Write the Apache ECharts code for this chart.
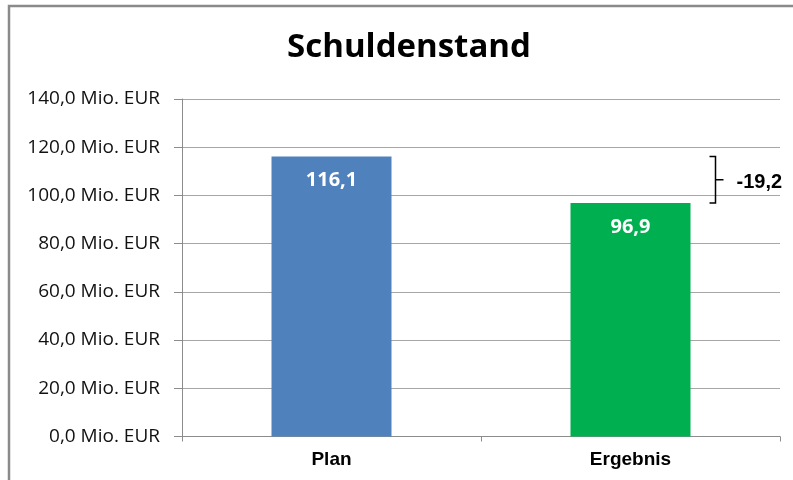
<!DOCTYPE html>
<html><head><meta charset="utf-8">
<script src="https://cdn.jsdelivr.net/npm/echarts@6/dist/echarts.min.js"></script>
<style>html,body{margin:0;padding:0;background:#fff}#c{width:793px;height:480px}</style>
</head><body><div id="c"></div>
<script>
var categories = ['Plan', 'Ergebnis'];
var values = [116.1, 96.9];
var barColors = ['#4F81BD', '#00B050'];
var yTicks = [0, 20, 40, 60, 80, 100, 120, 140];
var diffLabel = '-19,2';

function fmt(v){ return v.toFixed(1).replace('.', ',') + ' Mio. EUR'; }

var chart = echarts.init(document.getElementById('c'), null, {renderer:'canvas'});
chart.setOption({
  animation: false,
  backgroundColor: '#fff',
  title: {
    text: 'Schuldenstand', left: 404, top: 26, textAlign: 'center',
    textStyle: {fontFamily: 'Open Sans', fontWeight: 'bold', fontSize: 33, color: '#000'}
  },
  graphic: [{
    type: 'polyline', silent: true,
    shape: {points: [[9, 485], [9, 6], [800, 6]]},
    style: {stroke: '#8a8a8a', lineWidth: 2.5, fill: null}
  }],
  grid: {left: 182, right: 13, top: 99, bottom: 43.5, containLabel: false},
  xAxis: {
    type: 'category', data: categories,
    axisLine: {lineStyle: {color: '#8c8c8c', width: 1}},
    axisTick: {show: true, length: 5, lineStyle: {color: '#8c8c8c'}},
    axisLabel: {fontFamily: 'Liberation Sans', fontWeight: 'bold', fontSize: 19, color: '#000', margin: 14}
  },
  yAxis: {
    type: 'value', min: 0, max: 140, interval: 20,
    axisLine: {show: true, lineStyle: {color: '#8c8c8c', width: 1}},
    axisTick: {show: true, length: 8, lineStyle: {color: '#8c8c8c'}},
    splitLine: {lineStyle: {color: '#a6a6a6', width: 1}},
    axisLabel: {formatter: function(v){ return fmt(v); }, fontFamily: 'Open Sans', fontSize: 19, color: '#111', margin: 22}
  },
  series: [{
    type: 'bar', barWidth: 120,
    data: values.map(function(v, i){ return {value: v, itemStyle: {color: barColors[i]}}; }),
    label: {show: true, position: 'insideTop', distance: 14, color: '#fff', fontFamily: 'Open Sans', fontWeight: 'bold', fontSize: 20,
      formatter: function(p){ return p.value.toFixed(1).replace('.', ','); }}
  }, {
    type: 'custom',
    data: [[1, values[0], values[1]]],
    renderItem: function(params, api){
      var top = api.coord([api.value(0), api.value(1)]);
      var bot = api.coord([api.value(0), api.value(2)]);
      var x = top[0] + 85;
      var mid = (top[1] + bot[1]) / 2;
      return {type: 'group', children: [{
        type: 'polyline',
        shape: {points: [[x - 6, top[1]], [x, top[1]], [x, mid], [x + 8, mid], [x, mid], [x, bot[1]], [x - 6, bot[1]]]},
        style: {stroke: '#000', lineWidth: 1.5, fill: null}
      }, {
        type: 'text',
        style: {text: diffLabel, x: x + 21, y: mid + 3, textVerticalAlign: 'middle', fill: '#000',
          font: 'bold 20px "Liberation Sans"'}
      }]};
    }
  }]
});
</script></body></html>
